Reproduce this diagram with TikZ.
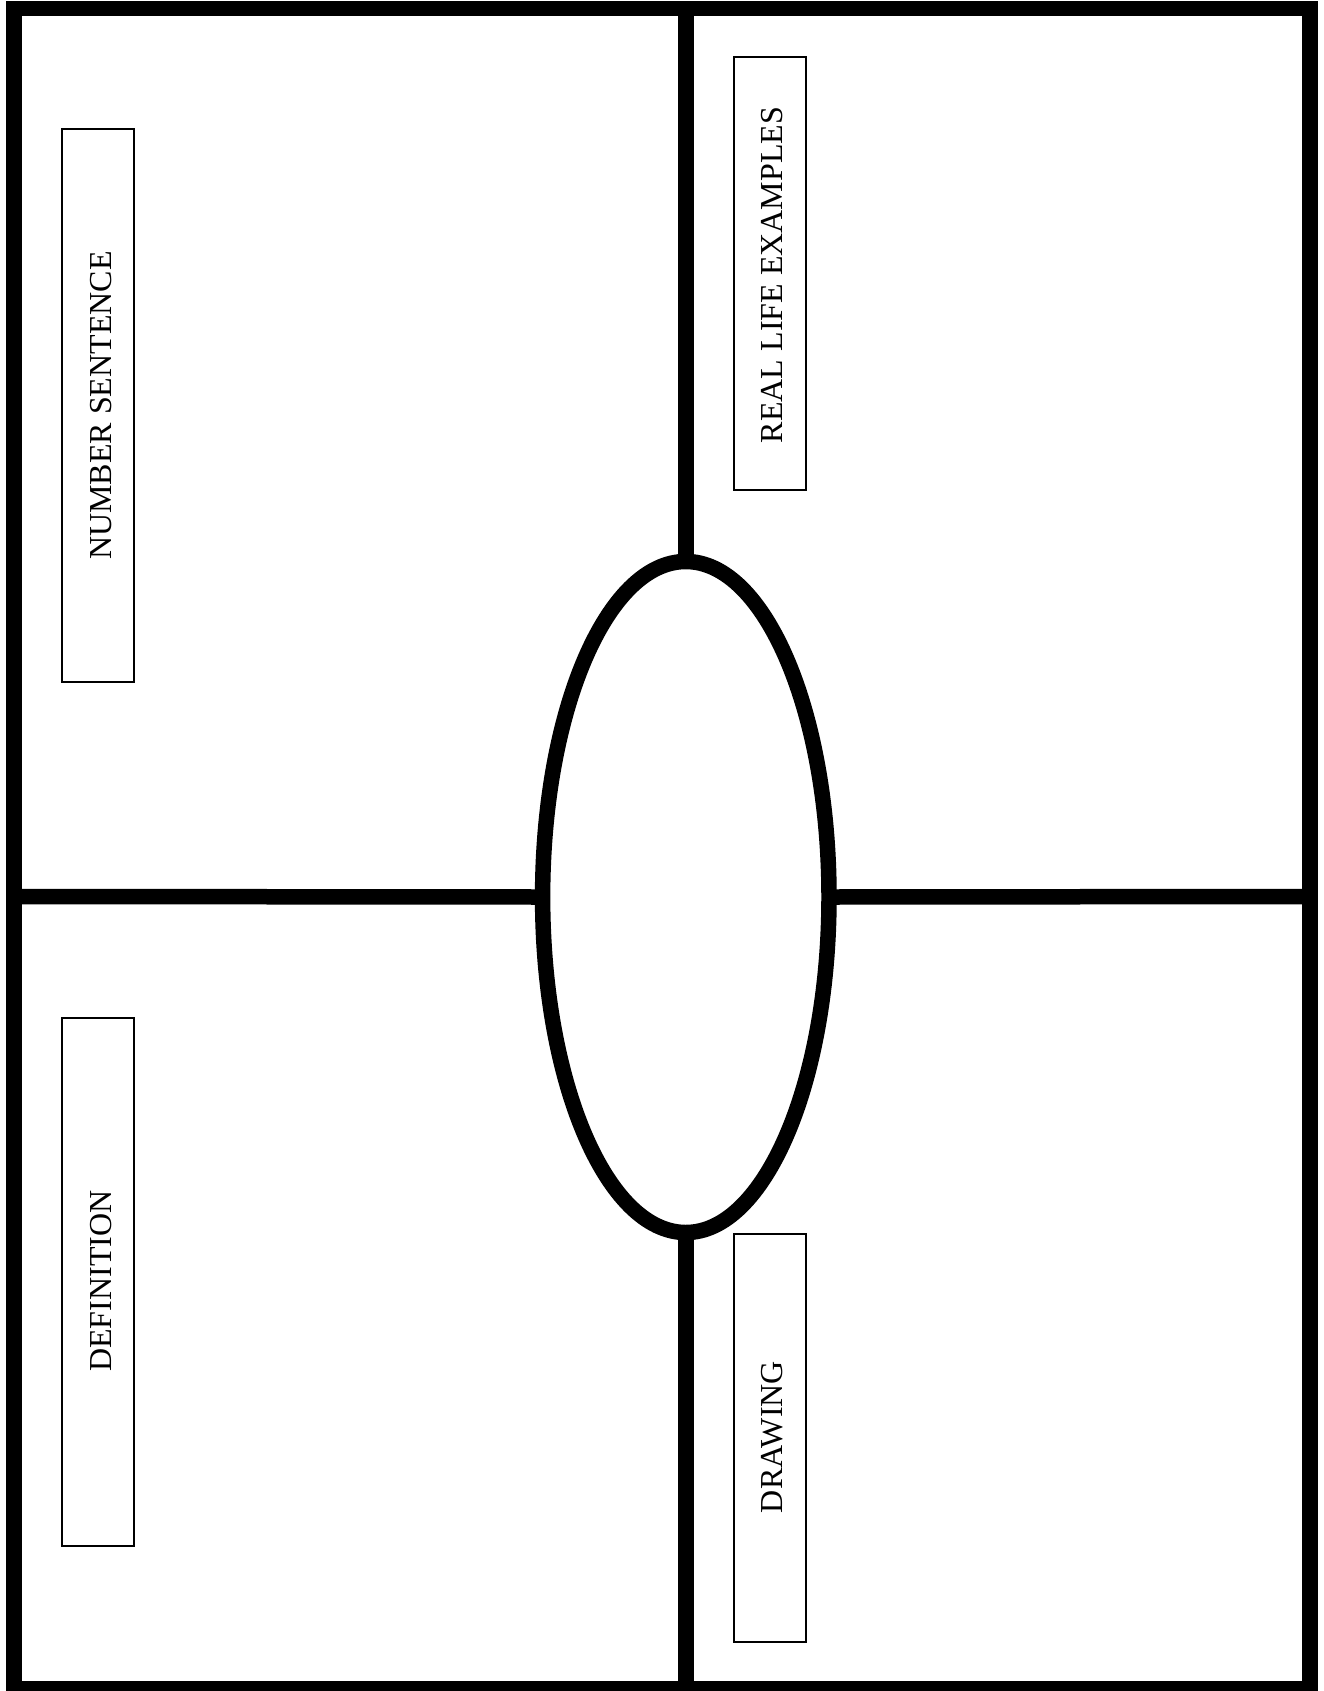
\documentclass[tikz,border=0pt]{standalone}
\usepackage{fontspec}
\setmainfont{Liberation Serif}
\usetikzlibrary{shapes.geometric}
\begin{document}
\begin{tikzpicture}[x=1pt,y=-1pt,
  heavy/.style={line width=15.5pt},
  labelbox/.style={draw,line width=2pt,minimum width=72pt,inner sep=0pt,outer sep=0pt},
  labeltext/.style={anchor=base,rotate=90,inner sep=0pt,font=\fontsize{32}{38}\selectfont}]
\useasboundingbox (0,0) rectangle (1324,1691);
% frame corners
\coordinate (tl) at (14,8.7);
\coordinate (tr) at (1310,8.7);
\coordinate (br) at (1310,1689);
\coordinate (bl) at (14,1689);
\coordinate (tm) at (685.8,8.7);
\coordinate (bm) at (685.8,1689);
\coordinate (lm) at (14,896.5);
\coordinate (rm) at (1310,896.5);
\draw[heavy,line join=miter] (tl) -- (tr) -- (br) -- (bl) -- cycle;
% central ellipse
\node[ellipse,draw,heavy,minimum width=286.4pt,minimum height=671pt,inner sep=0pt,outer sep=0pt] (ell) at (685.8,897) {};
\draw[heavy] (tm) -- (ell.north);
\draw[heavy] (ell.south) -- (bm);
\draw[heavy] (lm) -- (ell.west);
\draw[heavy] (ell.east) -- (rm);
% label boxes
\node[labelbox,minimum height=552pt] (nsbox) at (98,405.5) {};
\node[labelbox,minimum height=432pt] (rlbox) at (770,273.5) {};
\node[labelbox,minimum height=528pt] (defbox) at (98,1281.5) {};
\node[labelbox,minimum height=408pt] (drbox) at (770,1437.5) {};
% label texts
\node[labeltext] (nstext) at (111.7,405.5) {NUMBER SENTENCE};
\node[labeltext] (rltext) at (782.7,275) {REAL LIFE EXAMPLES};
\node[labeltext] (deftext) at (111.7,1281) {DEFINITION};
\node[labeltext] (drtext) at (782.7,1437) {DRAWING};
\end{tikzpicture}
\end{document}
